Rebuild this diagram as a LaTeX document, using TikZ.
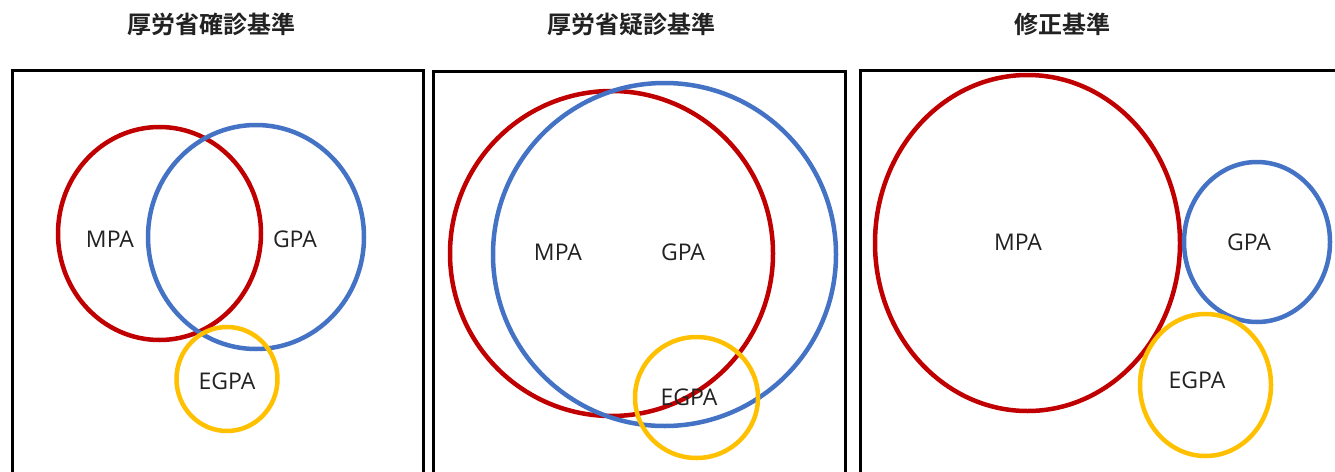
\documentclass[tikz,border=0pt]{standalone}
\usepackage{fontspec}
\usetikzlibrary{shapes.geometric}
\newfontfamily\cjkbold{Noto Sans CJK JP Bold}
\newfontfamily\labfont{Open Sans}
\definecolor{cred}{HTML}{C00000}
\definecolor{cblue}{HTML}{4472C4}
\definecolor{cyel}{HTML}{FFC000}
\definecolor{ctext}{HTML}{222222}
\begin{document}
\begin{tikzpicture}[x=1pt,y=-1pt,
  frame/.style={draw=black,line width=3pt},
  ring/.style={ellipse,draw,line width=4.5pt,inner sep=0pt},
  lab/.style={font=\labfont\fontsize{23}{26}\selectfont,text=ctext,inner sep=0pt},
  ttl/.style={font=\cjkbold\fontsize{24}{28}\selectfont,text=ctext,inner sep=0pt}]
\clip (0,0) rectangle (1335,471);
\fill[white] (0,0) rectangle (1335,471);
% titles
\node[ttl] (t1) at (211,24) {厚労省確診基準};
\node[ttl] (t2) at (631,24) {厚労省疑診基準};
\node[ttl] (t3) at (1062,24) {修正基準};
% frames
\draw[frame] (12,500) |- (423,70) -- (423,500);
\draw[frame] (433,500) |- (845,71) -- (845,500);
\draw[frame] (860,500) |- (1360,70);
% panel 1
\node[ring,draw=cred,minimum width=203pt,minimum height=213pt] (r1) at (159.5,233.5) {};
\node[ring,draw=cblue,minimum width=216pt,minimum height=224pt] (b1) at (256,237) {};
\node[ring,draw=cyel,minimum width=101pt,minimum height=104pt] (y1) at (227,379) {};
\node[lab] (m1) at (110,239) {MPA};
\node[lab] (g1) at (295,239) {GPA};
\node[lab] (e1) at (227,381) {EGPA};
% panel 2
\node[ring,draw=cred,minimum width=323pt,minimum height=325pt] (r2) at (611.5,253.5) {};
\node[ring,draw=cblue,minimum width=343pt,minimum height=343pt] (b2) at (664.5,254.5) {};
\node[ring,draw=cyel,minimum width=123pt,minimum height=121pt] (y2) at (696.5,397.5) {};
\node[lab] (m2) at (558,252) {MPA};
\node[lab] (g2) at (683,252) {GPA};
\node[lab] (e2) at (689,397) {EGPA};
% panel 3
\node[ring,draw=cred,minimum width=305pt,minimum height=336pt] (r3) at (1027.5,243) {};
\node[ring,draw=cblue,minimum width=146pt,minimum height=160pt] (b3) at (1257,242) {};
\node[ring,draw=cyel,minimum width=131pt,minimum height=142pt] (y3) at (1205.5,385) {};
\node[lab] (m3) at (1018,242) {MPA};
\node[lab] (g3) at (1249,242) {GPA};
\node[lab] (e3) at (1197,380) {EGPA};
\end{tikzpicture}
\end{document}
